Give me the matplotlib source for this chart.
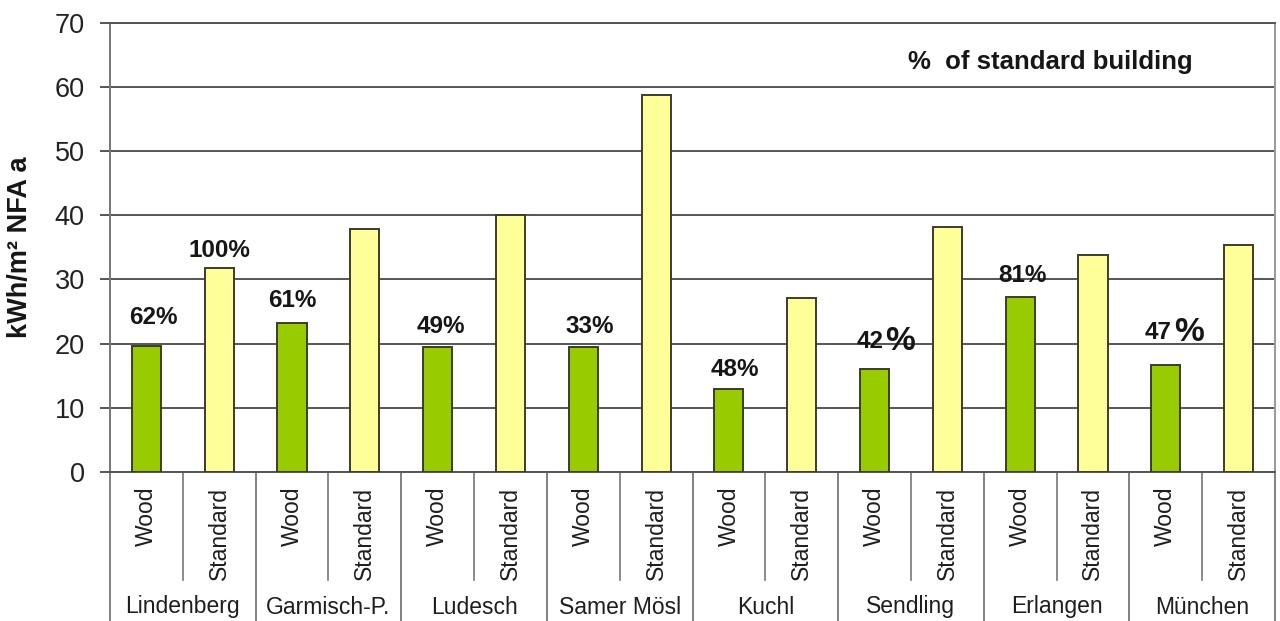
import matplotlib
matplotlib.use("Agg")
import matplotlib.pyplot as plt
import matplotlib.transforms as mtransforms

plt.rcParams['font.family'] = ['Liberation Sans', 'DejaVu Sans']

# Heating energy demand per site, wood construction vs. standard building
sites = ["Lindenberg", "Garmisch-P.", "Ludesch", "Samer Mösl",
         "Kuchl", "Sendling", "Erlangen", "München"]
variants = ["Wood", "Standard"]
wood = [19.6, 23.2, 19.5, 19.5, 13.0, 16.0, 27.3, 16.6]
standard = [31.8, 37.9, 40.0, 58.7, 27.1, 38.2, 33.8, 35.4]
wood_pct = ["62%", "61%", "49%", "33%", "48%", "42%", "81%", "47%"]
standard_pct = "100%"
y_ticks = [0, 10, 20, 30, 40, 50, 60, 70]

# label placement in pixels: (dx, dy above bar top)
pct_offsets = [(7, 22), (0, 16), (3, 14), (6, 14), (6, 13), (10, 20), (2, 15), (7, 26)]
big_percent = {5: (9, 11, 21, 19), 7: (6, 8, 26, 24)}  # digits dx, % dx, digits dy, % dy

GREEN = '#99cc00'
YELLOW = '#ffff99'
EDGE = '#3c3c2c'
GRID = '#555555'
LINE = '#777777'
TXT = '#161616'
PX = 0.72  # points per pixel at 100 dpi

fig = plt.figure(figsize=(12.8, 6.21), dpi=100)
ax = fig.add_axes([110 / 1280, 149 / 621, 1165 / 1280, 449.3 / 621])

xw = [2 * i for i in range(len(sites))]
xs = [2 * i + 1 for i in range(len(sites))]
ax.bar(xw, wood, width=0.4, color=GREEN, edgecolor=EDGE, linewidth=1.4, zorder=3)
ax.bar(xs, standard, width=0.4, color=YELLOW, edgecolor=EDGE, linewidth=1.4, zorder=3)

ax.set_xlim(-0.5, 2 * len(sites) - 0.5)
ax.set_ylim(0, 70)
ax.set_yticks(y_ticks)
ax.set_xticks([])
ax.yaxis.grid(True, color=GRID, linewidth=1.4)
ax.set_axisbelow(True)
for side in ['left', 'right', 'top', 'bottom']:
    ax.spines[side].set_color(GRID)
    ax.spines[side].set_linewidth(1.4)
ax.spines['left'].set_color(LINE)
ax.spines['right'].set_color('#999999')
ax.tick_params(axis='y', length=7.2, width=1.4, color=GRID, pad=11,
               labelsize=19.5, labelcolor='#222222')

ax.set_ylabel("kWh/m² NFA a", fontsize=19.5, fontweight='bold', color=TXT)
ax.yaxis.set_label_coords(-0.066, 0.5)

# percentage labels above the bars
for i, (val, lab) in enumerate(zip(wood, wood_pct)):
    if i in big_percent:
        ddx, pdx, ddy, pdy = big_percent[i]
        ax.annotate(lab[:-1], xy=(xw[i], val), xytext=(ddx * PX, ddy * PX),
                    textcoords='offset points', ha='right', va='baseline',
                    fontsize=17.5, fontweight='bold', color=TXT, zorder=4)
        ax.annotate('%', xy=(xw[i], val), xytext=(pdx * PX, pdy * PX),
                    textcoords='offset points', ha='left', va='baseline',
                    fontsize=24, fontweight='bold', color=TXT, zorder=4)
    else:
        dx, dy = pct_offsets[i]
        ax.annotate(lab, xy=(xw[i], val), xytext=(dx * PX, dy * PX),
                    textcoords='offset points', ha='center', va='baseline',
                    fontsize=17.5, fontweight='bold', color=TXT, zorder=4)
ax.annotate(standard_pct, xy=(xs[0], standard[0]), xytext=(0, 11 * PX),
            textcoords='offset points', ha='center', va='baseline',
            fontsize=17.5, fontweight='bold', color=TXT, zorder=4)

ax.text(0.8069, 0.9125, "%  of standard building", transform=ax.transAxes,
        ha='center', va='center', fontsize=18.5, fontweight='bold', color=TXT)

# category table below the axis
trans = mtransforms.blended_transform_factory(ax.transData, ax.transAxes)
short = -108 / 449.3
full = -0.36
for i in range(len(sites)):
    ax.plot([2 * i + 0.5] * 2, [0, short], transform=trans, color=LINE,
            lw=1.2, clip_on=False)
for k in range(len(sites) + 1):
    ax.plot([2 * k - 0.5] * 2, [0, full], transform=trans, color=LINE,
            lw=1.3, clip_on=False)

for i, site in enumerate(sites):
    for j, v in enumerate(variants):
        ax.text(2 * i + j, -15 / 449.3, v, transform=trans, rotation=90,
                ha='center', va='top', fontsize=16.5, color='#1e1e1e')
    ax.text(2 * i + 0.5, -135 / 449.3, site, transform=trans,
            ha='center', va='center', fontsize=16.5, color='#1e1e1e')

fig.savefig("out.png", dpi=100, facecolor='white')
